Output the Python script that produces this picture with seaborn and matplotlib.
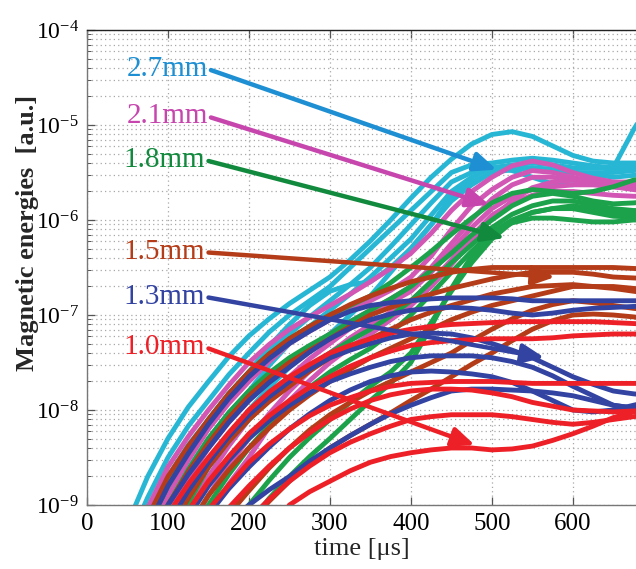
import numpy as np
import pandas as pd
import matplotlib
matplotlib.use("Agg")
import matplotlib.pyplot as plt
import seaborn as sns

# ---------------- data (log10 of magnetic energy) ----------------
times = [0, 25, 50, 75, 100, 125, 150, 175, 200, 225, 250, 275, 300, 325, 350,
         375, 400, 425, 450, 475, 500, 525, 550, 575, 600, 625, 650, 675, 700]

cyan_27 = [
    [-10.5, -9.8, -9.2, -8.7, -8.3, -7.97, -7.7, -7.44, -7.22, -7.04, -6.88, -6.74, -6.6, -6.42, -6.22,
     -6.0, -5.77, -5.55, -5.36, -5.2, -5.1, -5.07, -5.12, -5.22, -5.32, -5.38, -5.4, -5.4, -5.4],
    [-10.6, -10.0, -9.4, -8.92, -8.5, -8.17, -7.9, -7.63, -7.4, -7.18, -7.0, -6.85, -6.7, -6.5, -6.3,
     -6.1, -5.9, -5.7, -5.5, -5.42, -5.4, -5.37, -5.35, -5.37, -5.4, -5.43, -5.45, -5.45, -5.45],
    [-10.8, -10.2, -9.6, -9.12, -8.7, -8.37, -8.1, -7.83, -7.6, -7.38, -7.2, -7.02, -6.85, -6.68, -6.5,
     -6.28, -6.05, -5.82, -5.6, -5.5, -5.45, -5.48, -5.55, -5.62, -5.63, -5.58, -5.45, -5.05, -4.7],
    [-11.0, -10.5, -10.0, -9.5, -9.0, -8.62, -8.3, -8.03, -7.8, -7.53, -7.3, -7.12, -6.95, -6.78, -6.6,
     -6.4, -6.2, -5.95, -5.7, -5.55, -5.45, -5.42, -5.4, -5.42, -5.45, -5.45, -5.45, -5.43, -5.4],
    [-11.0, -10.6, -10.2, -9.75, -9.3, -8.93, -8.6, -8.28, -8.0, -7.76, -7.55, -7.37, -7.2, -7.0, -6.8,
     -6.55, -6.3, -6.05, -5.8, -5.63, -5.5, -5.46, -5.45, -5.47, -5.5, -5.5, -5.5, -5.48, -5.45],
    [-11.0, -10.4, -9.8, -9.3, -8.8, -8.43, -8.1, -7.83, -7.6, -7.33, -7.1, -6.9, -6.75, -6.68, -6.65,
     -6.5, -6.3, -6.05, -5.75, -5.6, -5.5, -5.47, -5.45, -5.47, -5.5, -5.52, -5.55, -5.53, -5.5],
]
magenta_21 = [
    [-10.7, -10.05, -9.5, -9.03, -8.6, -8.28, -8.0, -7.74, -7.5, -7.31, -7.15, -7.02, -6.9, -6.78, -6.65,
     -6.51, -6.35, -6.14, -5.9, -5.7, -5.55, -5.43, -5.38, -5.42, -5.5, -5.56, -5.6, -5.6, -5.6],
    [-10.9, -10.33, -9.8, -9.33, -8.9, -8.53, -8.2, -7.93, -7.7, -7.49, -7.3, -7.17, -7.05, -6.95, -6.85,
     -6.74, -6.6, -6.38, -6.1, -5.85, -5.68, -5.55, -5.48, -5.5, -5.55, -5.6, -5.65, -5.66, -5.65],
    [-11.0, -10.48, -10.0, -9.53, -9.1, -8.73, -8.4, -8.13, -7.9, -7.69, -7.5, -7.34, -7.2, -7.07, -6.95,
     -6.83, -6.7, -6.5, -6.25, -6.0, -5.78, -5.63, -5.55, -5.55, -5.58, -5.62, -5.65, -5.68, -5.7],
    [-11.0, -10.65, -10.3, -9.83, -9.4, -9.03, -8.7, -8.38, -8.1, -7.86, -7.65, -7.46, -7.3, -7.14, -7.0,
     -6.87, -6.75, -6.55, -6.32, -6.08, -5.88, -5.75, -5.68, -5.65, -5.63, -5.63, -5.65, -5.67, -5.68],
    [-11.5, -11.05, -10.6, -10.14, -9.7, -9.28, -8.9, -8.58, -8.3, -8.04, -7.8, -7.59, -7.4, -7.24, -7.1,
     -6.97, -6.85, -6.65, -6.42, -6.17, -5.95, -5.82, -5.74, -5.7, -5.7, -5.72, -5.74, -5.75, -5.75],
    [-11.5, -11.15, -10.8, -10.4, -10.0, -9.53, -9.1, -8.78, -8.5, -8.18, -7.9, -7.69, -7.5, -7.34, -7.2,
     -7.05, -6.9, -6.7, -6.47, -6.22, -5.98, -5.8, -5.66, -5.6, -5.58, -5.6, -5.62, -5.64, -5.65],
]
green_18 = [
    [-10.8, -10.23, -9.7, -9.23, -8.8, -8.43, -8.1, -7.83, -7.6, -7.41, -7.25, -7.12, -7.0, -6.9, -6.8,
     -6.66, -6.5, -6.33, -6.15, -5.98, -5.82, -5.72, -5.68, -5.7, -5.72, -5.7, -5.65, -5.58, -5.55],
    [-11.0, -10.5, -10.0, -9.48, -9.0, -8.63, -8.3, -8.03, -7.8, -7.61, -7.45, -7.32, -7.2, -7.07, -6.95,
     -6.83, -6.7, -6.53, -6.35, -6.16, -6.0, -5.85, -5.75, -5.72, -5.75, -5.8, -5.83, -5.82, -5.8],
    [-11.5, -10.93, -10.4, -9.88, -9.4, -8.98, -8.6, -8.33, -8.1, -7.89, -7.7, -7.54, -7.4, -7.27, -7.15,
     -7.01, -6.85, -6.65, -6.45, -6.26, -6.08, -5.94, -5.85, -5.8, -5.8, -5.84, -5.88, -5.9, -5.9],
    [-11.5, -11.15, -10.8, -10.28, -9.8, -9.38, -9.0, -8.68, -8.4, -8.16, -7.95, -7.76, -7.6, -7.47, -7.35,
     -7.19, -7.0, -6.78, -6.55, -6.33, -6.13, -6.0, -5.92, -5.88, -5.88, -5.92, -5.96, -5.97, -5.97],
    [-12.0, -11.75, -11.5, -11.0, -10.5, -10.03, -9.6, -9.28, -9.0, -8.74, -8.5, -8.29, -8.1, -7.92, -7.75,
     -7.6, -7.4, -7.08, -6.75, -6.45, -6.2, -6.02, -5.92, -5.88, -5.85, -5.88, -5.92, -5.93, -5.93],
    [-12.0, -11.9, -11.8, -11.3, -10.8, -10.33, -9.9, -9.53, -9.2, -8.93, -8.7, -8.49, -8.3, -8.1, -7.9,
     -7.72, -7.5, -7.12, -6.72, -6.38, -6.15, -6.03, -5.98, -5.98, -6.0, -6.02, -6.02, -6.0, -6.0],
]
brown_15 = [
    [-10.7, -10.13, -9.6, -9.13, -8.7, -8.38, -8.1, -7.83, -7.6, -7.41, -7.25, -7.12, -7.0, -6.89, -6.8,
     -6.72, -6.65, -6.6, -6.55, -6.52, -6.5, -6.5, -6.5, -6.5, -6.5, -6.5, -6.5, -6.51, -6.52],
    [-11.0, -10.43, -9.9, -9.43, -9.0, -8.65, -8.35, -8.08, -7.85, -7.66, -7.5, -7.37, -7.25, -7.12, -7.0,
     -6.92, -6.85, -6.78, -6.72, -6.67, -6.62, -6.58, -6.55, -6.55, -6.55, -6.57, -6.6, -6.61, -6.62],
    [-11.2, -10.68, -10.2, -9.73, -9.3, -8.93, -8.6, -8.33, -8.1, -7.91, -7.75, -7.59, -7.45, -7.35, -7.25,
     -7.15, -7.05, -6.97, -6.9, -6.84, -6.78, -6.74, -6.7, -6.69, -6.68, -6.7, -6.72, -6.75, -6.78],
    [-11.5, -11.03, -10.6, -10.08, -9.6, -9.23, -8.9, -8.63, -8.4, -8.19, -8.0, -7.84, -7.7, -7.57, -7.45,
     -7.35, -7.25, -7.15, -7.05, -6.97, -6.9, -6.85, -6.8, -6.75, -6.7, -6.7, -6.7, -6.72, -6.75],
    [-12.0, -11.48, -11.0, -10.53, -10.1, -9.73, -9.4, -9.1, -8.85, -8.61, -8.4, -8.21, -8.05, -7.92, -7.8,
     -7.7, -7.6, -7.5, -7.4, -7.27, -7.15, -7.04, -6.95, -6.89, -6.85, -6.87, -6.9, -6.93, -6.95],
    [-12.0, -11.75, -11.5, -11.03, -10.6, -10.18, -9.8, -9.48, -9.2, -8.96, -8.75, -8.56, -8.4, -8.27, -8.15,
     -8.03, -7.9, -7.78, -7.65, -7.52, -7.4, -7.27, -7.15, -7.06, -7.0, -6.99, -7.0, -7.02, -7.05],
]
blue_13 = [
    [-10.8, -10.23, -9.7, -9.23, -8.8, -8.46, -8.15, -7.88, -7.65, -7.46, -7.3, -7.17, -7.05, -6.96, -6.9,
     -6.87, -6.85, -6.83, -6.82, -6.82, -6.82, -6.83, -6.85, -6.85, -6.85, -6.85, -6.85, -6.85, -6.85],
    [-11.0, -10.43, -9.9, -9.43, -9.0, -8.68, -8.4, -8.13, -7.9, -7.71, -7.55, -7.39, -7.25, -7.14, -7.05,
     -6.99, -6.95, -6.93, -6.92, -6.93, -6.95, -6.98, -7.0, -6.98, -6.95, -6.93, -6.92, -6.91, -6.9],
    [-11.0, -10.53, -10.1, -9.63, -9.2, -8.85, -8.55, -8.28, -8.05, -7.86, -7.7, -7.57, -7.45, -7.37, -7.3,
     -7.24, -7.2, -7.19, -7.2, -7.24, -7.3, -7.37, -7.45, -7.55, -7.65, -7.73, -7.8, -7.83, -7.85],
    [-11.3, -10.83, -10.4, -9.93, -9.5, -9.13, -8.8, -8.53, -8.3, -8.11, -7.95, -7.82, -7.7, -7.62, -7.55,
     -7.49, -7.45, -7.43, -7.43, -7.43, -7.45, -7.49, -7.55, -7.64, -7.75, -7.85, -7.95, -7.98, -8.0],
    [-11.5, -11.08, -10.7, -10.23, -9.8, -9.43, -9.1, -8.83, -8.6, -8.39, -8.2, -8.04, -7.9, -7.79, -7.7,
     -7.64, -7.6, -7.59, -7.6, -7.62, -7.65, -7.71, -7.8, -7.9, -8.0, -8.02, -8.0, -7.95, -7.9],
    [-12.0, -11.48, -11.0, -10.53, -10.1, -9.73, -9.4, -9.18, -9.0, -8.84, -8.7, -8.54, -8.4, -8.27, -8.15,
     -8.04, -7.95, -7.87, -7.8, -7.78, -7.78, -7.79, -7.8, -7.82, -7.85, -7.9, -7.95, -7.98, -8.0],
]
red_10 = [
    [-11.0, -10.48, -10.0, -9.53, -9.1, -8.78, -8.5, -8.24, -8.0, -7.81, -7.65, -7.52, -7.4, -7.32, -7.25,
     -7.19, -7.15, -7.12, -7.1, -7.09, -7.08, -7.07, -7.07, -7.07, -7.07, -7.07, -7.08, -7.09, -7.1],
    [-11.2, -10.73, -10.3, -9.83, -9.4, -9.06, -8.75, -8.49, -8.25, -8.06, -7.9, -7.76, -7.65, -7.54, -7.45,
     -7.38, -7.32, -7.29, -7.27, -7.26, -7.25, -7.25, -7.25, -7.24, -7.22, -7.21, -7.2, -7.2, -7.2],
    [-11.5, -11.03, -10.6, -10.13, -9.7, -9.36, -9.05, -8.79, -8.55, -8.36, -8.2, -8.06, -7.95, -7.87, -7.8,
     -7.75, -7.72, -7.71, -7.7, -7.7, -7.7, -7.71, -7.72, -7.72, -7.72, -7.72, -7.72, -7.72, -7.72],
    [-11.8, -11.33, -10.9, -10.43, -10.0, -9.63, -9.3, -9.03, -8.8, -8.59, -8.4, -8.24, -8.1, -7.99, -7.9,
     -7.84, -7.8, -7.78, -7.78, -7.79, -7.82, -7.86, -7.92, -7.96, -8.0, -8.01, -8.02, -8.01, -8.0],
    [-13.0, -12.5, -12.0, -11.5, -11.0, -10.6, -10.2, -9.9, -9.6, -9.28, -9.0, -8.86, -8.75, -8.64, -8.55,
     -8.49, -8.45, -8.42, -8.4, -8.4, -8.42, -8.41, -8.38, -8.32, -8.25, -8.17, -8.08, -8.02, -7.98],
    [-12.5, -12.0, -11.5, -11.0, -10.5, -10.1, -9.7, -9.4, -9.15, -8.94, -8.75, -8.59, -8.45, -8.34, -8.25,
     -8.17, -8.1, -8.07, -8.05, -8.05, -8.05, -8.07, -8.1, -8.13, -8.15, -8.13, -8.1, -8.07, -8.05],
]

labels = ["2.7mm", "2.1mm", "1.8mm", "1.5mm", "1.3mm", "1.0mm"]
groups = [cyan_27, magenta_21, green_18, brown_15, blue_13, red_10]
curve_colors = ["#27b7d4", "#d257b4", "#1ba24a", "#b43c18", "#3243a2", "#ee2027"]
label_colors = ["#1e8fd2", "#c646ae", "#128a3e", "#b43c18", "#3243a2", "#ee2027"]

# annotation anchors: (time, log10 energy) for label end and arrow tip
label_t = [149, 149, 146, 146, 146, 146]
label_L = [-4.41, -4.91, -5.37, -6.34, -6.81, -7.34]
tip_t = [506, 497, 516, 578, 565, 479]
tip_L = [-5.47, -5.84, -6.19, -6.60, -7.45, -8.37]

# ---------------- build table ----------------
rows = []
for lab, grp in zip(labels, groups):
    for k, curve in enumerate(grp):
        for t, L in zip(times, curve):
            rows.append({"time": t, "energy": 10.0 ** L, "diameter": lab, "curve": f"{lab}-{k}"})
df = pd.DataFrame(rows)

# ---------------- style ----------------
sns.set_theme(style="white")
plt.rcParams["font.family"] = ["Liberation Serif", "DejaVu Serif"]
plt.rcParams["mathtext.fontset"] = "stix"

fig = plt.figure(figsize=(6.36, 5.69), dpi=100)
ax = fig.add_axes([87 / 636, 1 - 505 / 569, 1 - 87 / 636, (505 - 30) / 569])

sns.lineplot(data=df, x="time", y="energy", hue="diameter", units="curve",
             estimator=None, palette=dict(zip(labels, curve_colors)),
             hue_order=labels, lw=3.5, legend=False, ax=ax, sort=False)
for ln in ax.lines:
    ln.set_solid_joinstyle("round")
    ln.set_solid_capstyle("round")

ax.set_yscale("log")
ax.set_ylim(1e-9, 1e-4)
ax.set_xlim(0, 678)
ax.set_xticks([0, 100, 200, 300, 400, 500, 600])

ax.grid(True, which="major", axis="both", color="#a8a8a8", linestyle=(0, (1, 2.5)), lw=0.9)
ax.grid(True, which="minor", axis="y", color="#a8a8a8", linestyle=(0, (1, 2.5)), lw=0.9)
ax.set_axisbelow(True)

ax.tick_params(axis="both", which="major", direction="in", length=6, width=0.9,
               color="#555555", labelsize=17, top=True, left=True, bottom=True, right=False,
               labelcolor="black", pad=6)
ax.tick_params(axis="y", which="minor", direction="in", length=3, width=0.7,
               color="#555555", left=True, right=False)
for lab in ax.get_xticklabels():
    lab.set_fontsize(18)

for side in ["left", "bottom"]:
    ax.spines[side].set_color("#777777")
    ax.spines[side].set_linewidth(1.0)
ax.spines["top"].set_color("#222222")
ax.spines["top"].set_linewidth(1.0)
ax.spines["right"].set_visible(False)

ax.set_xlabel("time [μs]", fontsize=19, labelpad=2)
ax.set_ylabel("Magnetic energies  [a.u.]", fontsize=19, fontweight="bold")
ax.yaxis.set_label_coords(-0.088, 0.573)

for lab, c, lt, lL, tt, tL in zip(labels, label_colors, label_t, label_L, tip_t, tip_L):
    ax.annotate(lab, xy=(tt, 10.0 ** tL), xytext=(lt, 10.0 ** lL),
                textcoords="data", xycoords="data", ha="right", va="center",
                fontsize=21, color=c,
                arrowprops=dict(arrowstyle="-|>,head_length=0.75,head_width=0.32",
                                color=c, lw=3.2, shrinkA=0, shrinkB=0,
                                relpos=(1.0, 0.5), mutation_scale=18))

fig.savefig("out.png", dpi=100)
